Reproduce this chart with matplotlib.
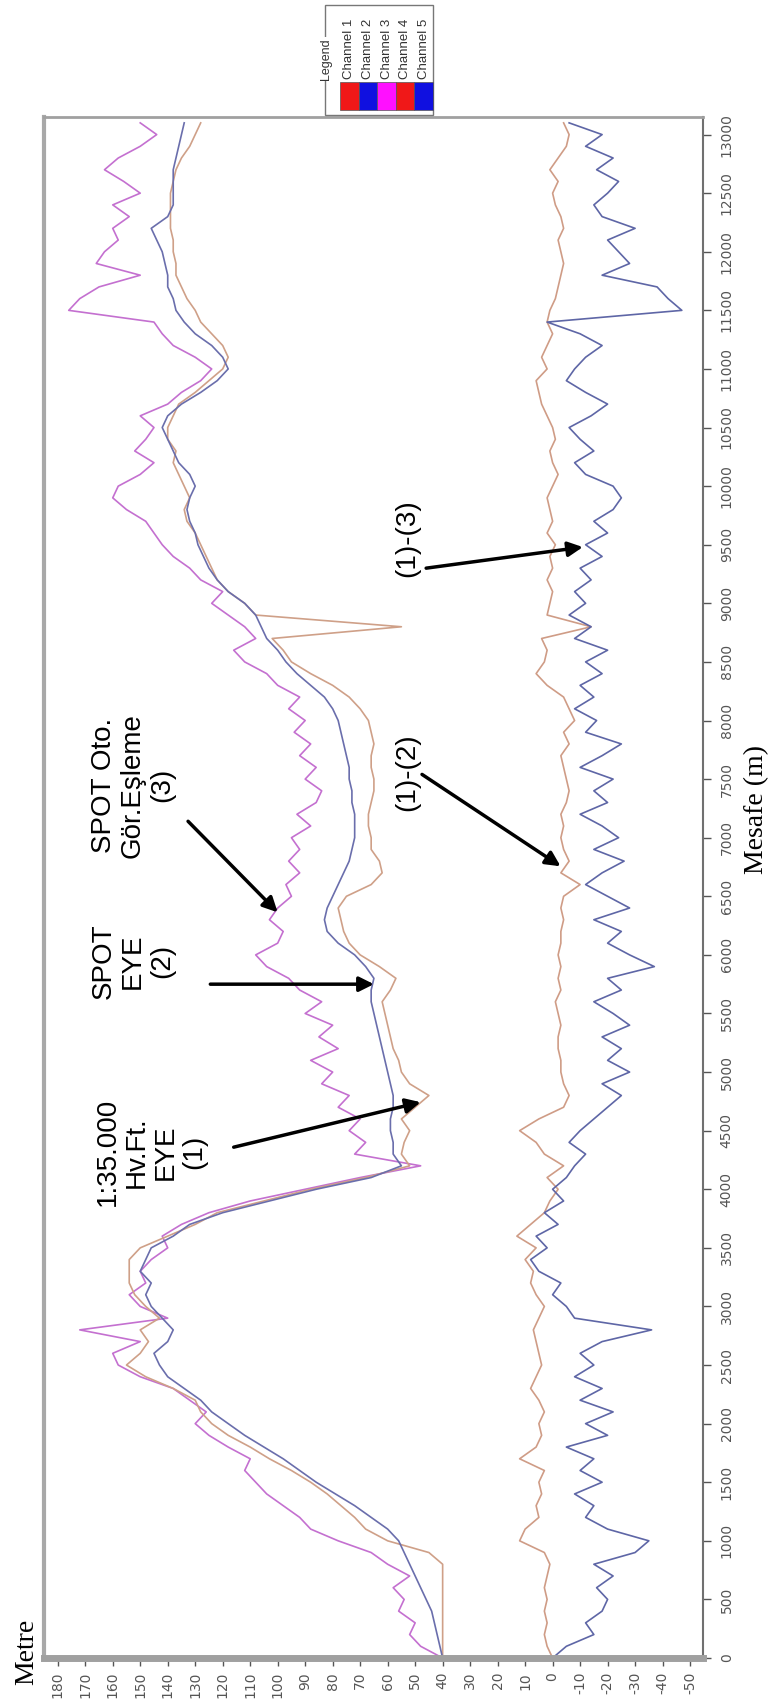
import matplotlib.pyplot as plt
from matplotlib.patches import Rectangle

# Mesafe (m) along the profile, one value every 100 m
mesafe = list(range(0, 13200, 100))

# (1) 1:35.000 Hv.Ft. EYE
eye_hvft = [
    40, 40, 40, 40, 40, 40, 40, 40, 40, 45,
    60, 68, 72, 77, 82, 88, 95, 103, 110, 118,
    124, 128, 130, 138, 148, 155, 150, 147, 150, 143,
    148, 152, 154, 154, 154, 150, 140, 130, 122, 105,
    88, 68, 52, 55, 54, 52, 55, 50, 45, 52,
    55, 56, 58, 59, 60, 61, 62, 59, 57, 63,
    70, 74, 76, 77, 78, 75, 66, 62, 63, 66,
    66, 67, 67, 66, 65, 65, 66, 66, 65, 66,
    67, 70, 74, 80, 88, 95, 98, 102, 55, 108,
    112, 118, 122, 124, 126, 128, 130, 133, 134, 132,
    134, 136, 138, 137, 140, 140, 138, 136, 130, 125,
    120, 118, 120, 124, 128, 130, 133, 135, 137, 137,
    138, 138, 139, 139, 139, 139, 138, 137, 135, 132,
    130, 128,
]
# (2) SPOT EYE
spot_eye = [
    40, 41, 42, 43, 44, 46, 48, 50, 52, 54,
    56, 60, 66, 72, 79, 86, 92, 98, 105, 112,
    118, 124, 128, 134, 140, 143, 145, 140, 138, 142,
    146, 148, 146, 150, 148, 146, 138, 132, 120, 103,
    86, 66, 55, 58, 58, 59, 59, 58, 58, 59,
    60, 61, 62, 63, 64, 65, 66, 66, 65, 68,
    72, 78, 82, 83, 82, 80, 78, 76, 74, 73,
    72, 72, 72, 73, 73, 74, 74, 75, 76, 77,
    78, 80, 83, 88, 93, 97, 100, 104, 106, 108,
    112, 118, 122, 125, 127, 129, 130, 132, 133, 132,
    130, 132, 136, 138, 140, 142, 140, 135, 128, 122,
    118, 120, 124, 130, 134, 137, 138, 140, 140, 141,
    142, 144, 146, 140, 138, 138, 138, 138, 137, 136,
    135, 134,
]
# (3) SPOT Oto. Gor.Esleme
spot_oto = [
    40, 48, 52, 50, 56, 54, 58, 52, 60, 66,
    78, 88, 92, 98, 104, 108, 112, 110, 118, 125,
    130, 126, 132, 138, 150, 158, 160, 150, 172, 140,
    150, 154, 148, 150, 146, 140, 142, 135, 125, 110,
    90, 70, 48, 72, 68, 74, 70, 78, 74, 84,
    80, 88, 78, 85, 80, 90, 84, 92, 96, 104,
    108, 100, 98, 103, 100, 95, 97, 92, 96, 92,
    95, 88, 93, 86, 84, 90, 86, 92, 88, 94,
    90, 96, 92, 100, 104, 112, 116, 108, 112, 118,
    124, 120, 128, 132, 138, 142, 145, 148, 155, 160,
    158, 150, 145, 152, 148, 145, 150, 140, 135, 128,
    124, 130, 138, 142, 145, 176, 172, 165, 150, 166,
    163, 158, 160, 154, 160, 150, 156, 163, 158, 150,
    144, 150,
]
# (1)-(2)
diff_12 = [
    0, 2, 3, 2, 3, 2, 3, 2, 1, 3,
    12, 10, 5, 6, 4, 5, 3, 12, 6, 4,
    5, 3, 5, 8, 6, 4, 5, 6, 7, 5,
    3, 6, 8, 7, 10, 6, 13, 8, 3, 1,
    -2, 2, -4, 3, 6, 12, 5, -4, -6, -4,
    -3, -3, -2, -2, -3, -2, -1, -3, -2, -3,
    -2, -3, -3, -4, -3, -4, -10, -3, -6, -4,
    -3, -4, -3, -5, -6, -5, -4, -3, -6, -4,
    -8, -6, -4, 2, 6, 3, 2, 4, -14, 2,
    1, 0, 2, 0, 1, -1, 2, 0, 1, 2,
    0, -2, 0, 1, -1, 0, 2, 4, 5, 6,
    2, 4, 2, 0, 2, 1, -1, -2, -3, -4,
    -3, -2, -4, -3, -1, 0, -2, 1, -2, -5,
    -6, -4,
]
# (1)-(3)
diff_13 = [
    0, -5, -15, -12, -18, -20, -16, -22, -15, -30,
    -35, -20, -12, -15, -8, -18, -10, -15, -5, -20,
    -12, -22, -10, -18, -8, -15, -10, -18, -36, -8,
    -5, 0, -3, 5, 8, 2, 6, -2, 3, -4,
    0, -5, -8, -12, -6, -10, -15, -20, -25, -18,
    -28, -20, -25, -18, -28, -22, -15, -25, -20, -37,
    -28, -20, -25, -15, -28, -20, -12, -18, -26, -15,
    -24, -18, -10, -20, -15, -22, -10, -18, -25, -12,
    -16, -8, -15, -10, -18, -12, -20, -8, -14, -6,
    -12, -8, -14, -10, -18, -12, -20, -15, -22, -25,
    -22, -12, -8, -15, -10, -6, -14, -20, -12, -5,
    -8, -12, -18, -10, 2, -47, -42, -38, -18, -28,
    -24, -20, -30, -18, -15, -20, -24, -16, -22, -12,
    -18, -6,
]

metre_ticks = list(range(180, -60, -10))
mesafe_ticks = list(range(0, 13500, 500))

channel_names = ['Channel 1', 'Channel 2', 'Channel 3', 'Channel 4', 'Channel 5']
channel_colors = ['#f01818', '#1010e0', '#ff10ff', '#f01818', '#1010e0']

W, H = 773, 1707
sans = ['Liberation Sans', 'DejaVu Sans']
serif = ['Liberation Serif', 'DejaVu Serif']

fig = plt.figure(figsize=(W / 100, H / 100), dpi=100)
ax = fig.add_axes([44 / W, 1 - 1658 / H, 659 / W, 1541 / H])

# the chart is stored turned a quarter turn: Metre runs right-to-left, Mesafe upward
ax.plot(spot_oto, mesafe, color='#c470d0', lw=1.2)
ax.plot(eye_hvft, mesafe, color='#cfa088', lw=1.2)
ax.plot(spot_eye, mesafe, color='#6a6eac', lw=1.2)
ax.plot(diff_12, mesafe, color='#cf9c86', lw=1.2)
ax.plot(diff_13, mesafe, color='#5e66a6', lw=1.2)

ax.set_xlim(185, -54.7)
ax.set_ylim(0, 13150)

ax.set_xticks(metre_ticks)
ax.set_xticklabels([str(v) for v in metre_ticks], rotation=90, fontsize=10, color='#555555')
ax.yaxis.tick_right()
ax.set_yticks(mesafe_ticks)
ax.set_yticklabels([str(v) for v in mesafe_ticks], rotation=90, va='center', fontsize=10,
                   color='#555555')
ax.tick_params(axis='x', direction='out', length=6, width=1, color='#555555', pad=4)
ax.tick_params(axis='y', direction='out', length=6, width=1, color='#555555', pad=6)

ax.spines['bottom'].set_color('#a0a0a0')
ax.spines['bottom'].set_linewidth(5)
ax.spines['left'].set_color('#a8a8a8')
ax.spines['left'].set_linewidth(3)
ax.spines['top'].set_color('#a0a0a0')
ax.spines['top'].set_linewidth(2)
ax.spines['right'].set_color('#707070')
ax.spines['right'].set_linewidth(1.5)

# annotations
ann = dict(rotation=90, ha='center', va='center', fontsize=20, family=sans,
           multialignment='center', linespacing=1.15)
ax.text(146, 4316, '1:35.000\nHv.Ft.\nEYE\n(1)', **ann)
ax.text(152.6, 5946, 'SPOT\nEYE\n(2)', **ann)
ax.text(152.6, 7447, 'SPOT Oto.\nGör.Eşleme\n(3)', **ann)
ax.text(53, 7558, '(1)-(2)', **ann)
ax.text(53, 9560, '(1)-(3)', **ann)

arrow = dict(arrowstyle='-|>', color='black', lw=2.5, mutation_scale=22, shrinkA=0, shrinkB=0)
ax.annotate('', xy=(48, 4743), xytext=(116, 4359), arrowprops=arrow)
ax.annotate('', xy=(65, 5750), xytext=(124.5, 5750), arrowprops=arrow)
ax.annotate('', xy=(100, 6363), xytext=(132.6, 7140), arrowprops=arrow)
ax.annotate('', xy=(-2.9, 6756), xytext=(47.5, 7540), arrowprops=arrow)
ax.annotate('', xy=(-11, 9480), xytext=(46, 9300), arrowprops=arrow)

# axis titles
fig.text(27 / W, 1 - 1652 / H, 'Metre', rotation=90, ha='center', va='center',
         fontsize=20, family=serif)
fig.text(757 / W, 0.526, 'Mesafe (m)', rotation=90, ha='center', va='center',
         fontsize=20, family=serif)

# legend box above the plot
fig.patches.append(Rectangle((325 / W, 1 - 115 / H), 108 / W, 110 / H,
                             transform=fig.transFigure, fill=False,
                             edgecolor='#777777', lw=1))
for i, (name, col) in enumerate(zip(channel_names, channel_colors)):
    x0 = 340 + 18.6 * i
    fig.patches.append(Rectangle((x0 / W, 1 - 110 / H), 18.6 / W, 28 / H,
                                 transform=fig.transFigure, facecolor=col,
                                 edgecolor='#555555', lw=0.5))
    fig.text((x0 + 9.3) / W, 1 - 79 / H, name, rotation=90, ha='center', va='bottom',
             fontsize=9.5, color='#333333', family=sans)
fig.text(326 / W, 1 - 59 / H, 'Legend', rotation=90, ha='center', va='center',
         fontsize=9, color='#333333', family=sans,
         bbox=dict(facecolor='white', edgecolor='none', pad=0.5))

fig.savefig('out.png', dpi=100, facecolor='white')
